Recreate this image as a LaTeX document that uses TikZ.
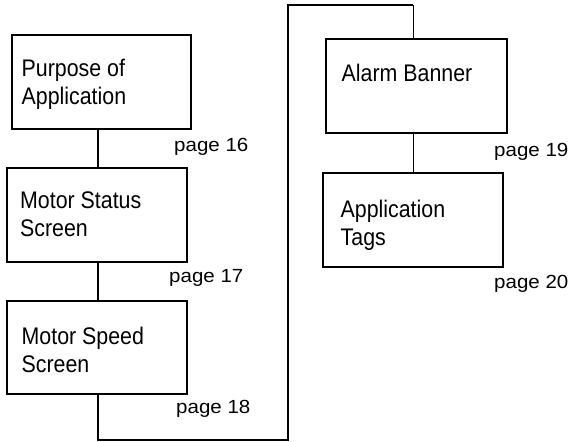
\documentclass[tikz,border=0pt]{standalone}
\usepackage{fontspec}
\newfontfamily\mainf[FakeStretch=0.89]{Liberation Sans}
\newfontfamily\pagef[FakeStretch=1.08]{Liberation Sans}
\begin{document}
\begin{tikzpicture}[x=1pt,y=-1pt,
  box/.style={draw,line width=2pt,minimum width=180pt,minimum height=94pt,inner sep=0pt},
  lbl/.style={anchor=base west,inner sep=0pt,font=\mainf\fontsize{24pt}{28pt}\selectfont,align=left},
  pg/.style={anchor=base west,inner sep=0pt,font=\pagef\fontsize{19pt}{22pt}\selectfont},
  thickline/.style={line width=2pt},
  thinline/.style={line width=1pt}]
\useasboundingbox (0,0) rectangle (574,442);
% boxes
\node[box,minimum width=179pt] (b1) at (101.5,82) {};
\node[box] (b2) at (97,215) {};
\node[box,minimum height=93pt] (b3) at (97,347.5) {};
\node[box,minimum width=181pt] (b4) at (416.5,86) {};
\node[box] (b5) at (413,220) {};
% texts (base anchor = baseline of last line)
\node[lbl] (t1) at (21.5,104.5) {Purpose of\\Application};
\node[lbl] (t2) at (20,236.5) {Motor Status\\Screen};
\node[lbl] (t3) at (21.5,372.5) {Motor Speed\\Screen};
\node[lbl] (t4) at (341.5,81.7) {Alarm Banner};
\node[lbl] (t5) at (340.5,245.5) {Application\\Tags};
% page labels
\node[pg] (p16) at (174,151) {page 16};
\node[pg] (p17) at (169,282) {page 17};
\node[pg] (p18) at (176,413) {page 18};
\node[pg] (p19) at (494,156) {page 19};
\node[pg] (p20) at (494,288.5) {page 20};
% connectors
\coordinate (lb) at (288,440);
\coordinate (lt) at (288,5);
\coordinate (rt) at (413,5);
\draw[thickline] (b2.north -| 98,0) -- (b1.south -| 98,0);
\draw[thickline] (b3.north -| 98,0) -- (b2.south -| 98,0);
\draw[thickline,line join=miter] (b3.south -| 98,0) |- (lb) -- (lt) -- (rt);
\draw[thinline] (rt) -- (rt |- b4.north);
\draw[thinline] (b4.south -| b5.north) -- (b5.north);
\end{tikzpicture}
\end{document}
